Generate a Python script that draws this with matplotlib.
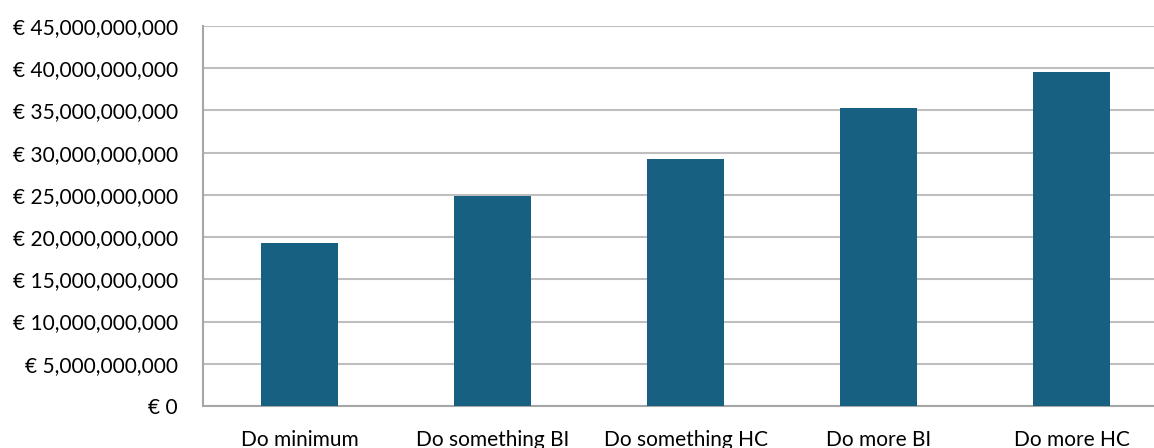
import matplotlib.pyplot as plt
from matplotlib.ticker import FuncFormatter

scenarios = ["Do minimum", "Do something BI", "Do something HC", "Do more BI", "Do more HC"]
costs = [19.3e9, 24.9e9, 29.25e9, 35.3e9, 39.55e9]

plt.rcParams['font.family'] = ['Lato', 'DejaVu Sans']

fig = plt.figure(figsize=(11.54, 4.48), dpi=100)
# the plot area runs a bit past the right edge of the picture, like the original
ax = fig.add_axes([203 / 1154, 42 / 448, 965 / 1154, 380 / 448])

ax.bar(range(len(scenarios)), costs, width=0.40, color="#176081", zorder=3)

ax.set_xlim(-0.5, 4.5)
ax.set_ylim(0, 45e9)
ax.set_yticks([i * 5e9 for i in range(10)])
ax.yaxis.set_major_formatter(FuncFormatter(lambda v, p: f"€ {v:,.0f}"))
ax.set_xticks(range(len(scenarios)))
ax.set_xticklabels(scenarios)

ax.grid(axis="y", color="#bfbfbf", linewidth=1.5, zorder=0)
for s in ["top", "right"]:
    ax.spines[s].set_visible(False)
for s in ["left", "bottom"]:
    ax.spines[s].set_color("#a6a6a6")
    ax.spines[s].set_linewidth(1.5)

ax.tick_params(axis="y", length=0, pad=18, labelsize=15, colors="black")
ax.tick_params(axis="x", length=0, pad=17, labelsize=15, colors="black")

fig.savefig("out.png", dpi=100)
